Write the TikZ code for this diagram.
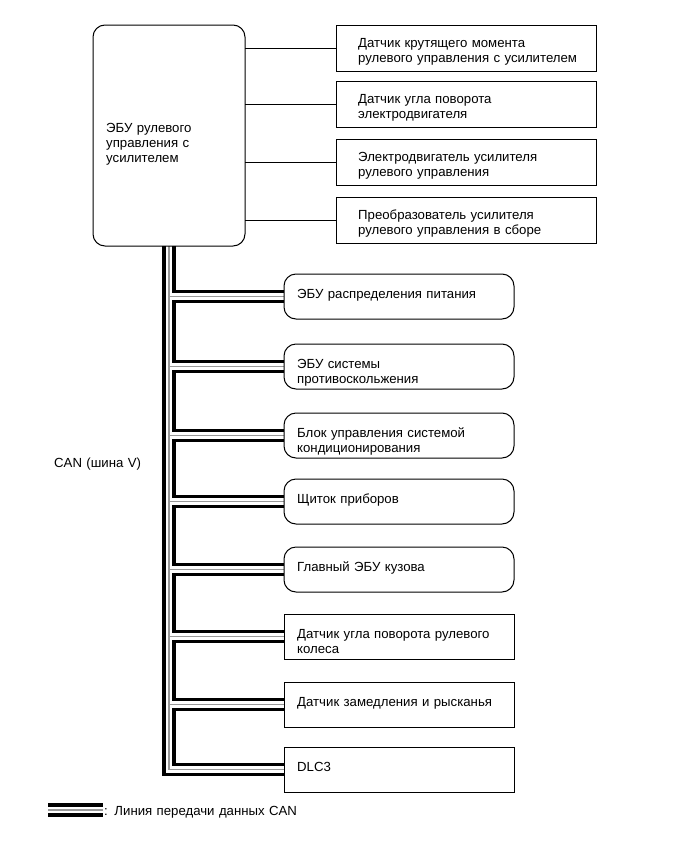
\documentclass[tikz,border=0pt]{standalone}
\usepackage{fontspec}
\setmainfont{Liberation Sans}
\usetikzlibrary{backgrounds}
\definecolor{cangray}{gray}{0.6}
\begin{document}
\begin{tikzpicture}[x=1pt,y=-1pt,
  lbox/.style={draw, line width=1pt, minimum width=230pt, minimum height=45pt, anchor=north west, inner sep=0pt, outer sep=0pt},
  rlbox/.style={lbox, rounded corners=12pt},
  ubox/.style={draw, line width=1pt, minimum width=260pt, minimum height=46pt, anchor=north west, inner sep=0pt, outer sep=0pt},
  lbl/.style={anchor=base west, align=left, text width=250pt, inner sep=0pt, font=\fontsize{13.2}{15}\selectfont},
  wire/.style={line width=0.9pt}
]
\useasboundingbox (0,0) rectangle (691,854);

% ECU
\node[draw, line width=1pt, rounded corners=12pt, minimum width=152pt, minimum height=221pt, anchor=north west, inner sep=0pt, outer sep=0pt] (ecu) at (93,25) {};
\node[lbl] (ecut) at (106,132.5) {ЭБУ рулевого\\управления с\\усилителем};

% upper right boxes
\node[ubox] (s1) at (336,25) {};
\node[ubox] (s2) at (336,81) {};
\node[ubox] (s3) at (336,139) {};
\node[ubox] (s4) at (336,197) {};
\node[lbl] (s1t) at (358,47.5) {Датчик крутящего момента\\рулевого управления с усилителем};
\node[lbl] (s2t) at (358,103.5) {Датчик угла поворота\\электродвигателя};
\node[lbl] (s3t) at (358,161.5) {Электродвигатель усилителя\\рулевого управления};
\node[lbl] (s4t) at (358,219.5) {Преобразователь усилителя\\рулевого управления в сборе};
\foreach \s in {s1,s2,s3,s4}{
  \draw[wire] (ecu.east |- \s.west) -- (\s.west);
}

% lower boxes
\node[rlbox] (b1) at (284,274) {};
\node[rlbox] (b2) at (284,344) {};
\node[rlbox] (b3) at (284,413) {};
\node[rlbox] (b4) at (284,479) {};
\node[rlbox] (b5) at (284,547) {};
\node[lbox] (b6) at (284,614) {};
\node[lbox] (b7) at (284,682) {};
\node[lbox] (b8) at (284,747) {};
\node[lbl] (b1t) at (297,298.5) {ЭБУ распределения питания};
\node[lbl] (b2t) at (297,368.5) {ЭБУ системы\\противоскольжения};
\node[lbl] (b3t) at (297,437.5) {Блок управления системой\\кондиционирования};
\node[lbl] (b4t) at (297,503.5) {Щиток приборов};
\node[lbl] (b5t) at (297,571.5) {Главный ЭБУ кузова};
\node[lbl] (b6t) at (297,638.5) {Датчик угла поворота рулевого\\колеса};
\node[lbl] (b7t) at (297,706.5) {Датчик замедления и рысканья};
\node[lbl] (b8t) at (297,771.5) {DLC3};

% CAN bus
\begin{scope}[on background layer]
\foreach \w/\c in {13.5/black,6.8/white,1.8/cangray}{
  \draw[line width=\w pt,\c]
    (ecu.south) |- (b1.west) (ecu.south) |- (b2.west)
    (ecu.south) |- (b3.west) (ecu.south) |- (b4.west)
    (ecu.south) |- (b5.west) (ecu.south) |- (b6.west)
    (ecu.south) |- (b7.west) (ecu.south) |- (b8.west);
}
\end{scope}
\node[lbl] (can) at (54,467) {CAN (шина V)};

% legend
\coordinate (lg1) at (48,810);
\coordinate (lg2) at (103,810);
\foreach \w/\c in {13.5/black,6.8/white,1.8/cangray}{
  \draw[line width=\w pt,\c] (lg1) -- (lg2);
}
\node[lbl] (lgt) at (104,815.5) {: Линия передачи данных CAN};
\end{tikzpicture}
\end{document}
